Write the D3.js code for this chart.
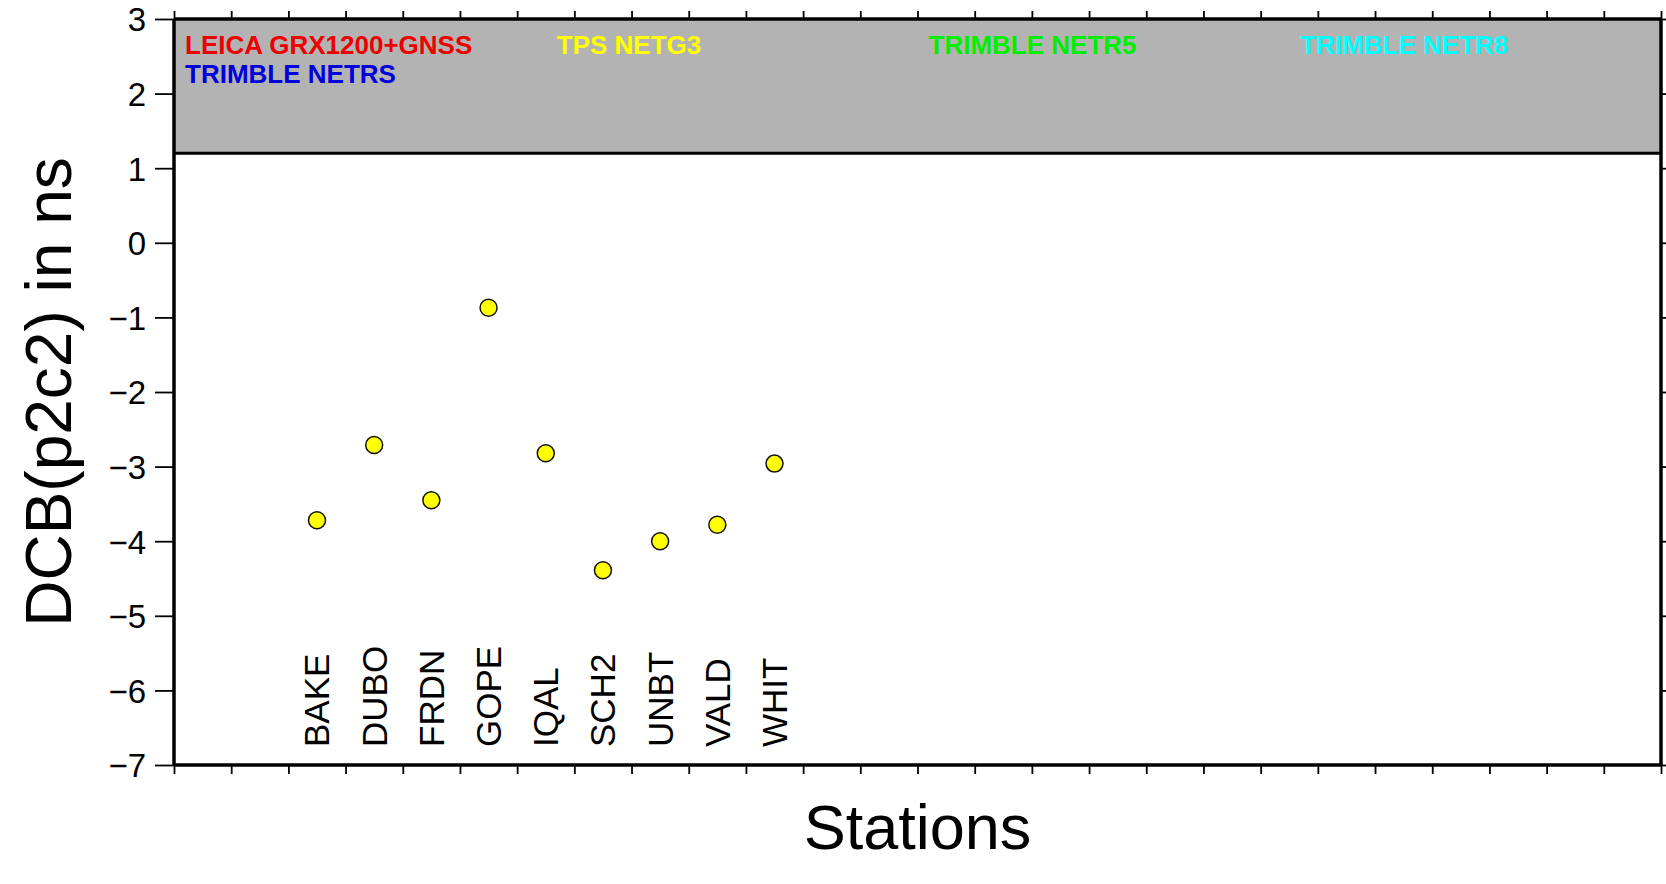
<!DOCTYPE html>
<html>
<head>
<meta charset="utf-8">
<script src="https://cdn.jsdelivr.net/npm/d3@7"></script>
<style>
  html, body { margin: 0; padding: 0; background: #fff; }
  svg { display: block; font-family: "Liberation Sans", Arial, Helvetica, sans-serif; }
</style>
</head>
<body>
<div id="chart"></div>
<script>
// stations and their DCB(p2c2) values in ns
const stations = ['BAKE', 'DUBO', 'FRDN', 'GOPE', 'IQAL', 'SCH2', 'UNBT', 'VALD', 'WHIT'];
const dcbValues = [-3.72, -2.71, -3.45, -0.87, -2.82, -4.39, -4.00, -3.78, -2.96];

// receiver types shown in the grey band
const receivers = ['LEICA GRX1200+GNSS', 'TRIMBLE NETRS', 'TPS NETG3', 'TRIMBLE NETR5', 'TRIMBLE NETR8'];
const receiverColors = ['#ee0000', '#0000dd', '#ffff00', '#00ee00', '#00ffff'];
const receiverColumn = [0, 0, 1, 2, 3];
const receiverRow = [0, 1, 0, 0, 0];

const yTicks = [3, 2, 1, 0, -1, -2, -3, -4, -5, -6, -7];

const width = 1666, height = 884;
const plotLeft = 174, plotRight = 1661, plotTop = 19, plotBottom = 765;
const nSlots = 26;      // x axis runs over 26 slots
const firstSlot = 2;    // first station sits in slot 2
const bandFloor = 1.2;  // grey band goes from here up to the top

const svg = d3.select('#chart').append('svg')
    .attr('width', width)
    .attr('height', height);

const x = d3.scaleLinear().domain([0, nSlots]).range([plotLeft, plotRight]);
const y = d3.scaleLinear().domain([-7, 3]).range([plotBottom, plotTop]);

// --- grey band with the receiver names ---
svg.append('rect')
    .attr('x', x(0))
    .attr('y', y(3))
    .attr('width', x(nSlots) - x(0))
    .attr('height', y(bandFloor) - y(3))
    .attr('fill', '#b3b3b3');

svg.append('line')
    .attr('x1', x(0)).attr('x2', x(nSlots))
    .attr('y1', y(bandFloor)).attr('y2', y(bandFloor))
    .attr('stroke', '#000')
    .attr('stroke-width', 3);

svg.append('g')
    .selectAll('text')
    .data(receivers)
    .enter()
    .append('text')
    .attr('x', (d, i) => x(receiverColumn[i] * nSlots / 4) + 11)
    .attr('y', (d, i) => 54 + receiverRow[i] * 29)
    .attr('fill', (d, i) => receiverColors[i])
    .attr('font-size', 26)
    .attr('font-weight', 'bold')
    .text(d => d);

// --- axes ---
const axisLeft = svg.append('g')
    .attr('transform', `translate(${plotLeft},0)`)
    .call(d3.axisLeft(y).tickValues(yTicks).tickSize(19).tickPadding(9)
        .tickFormat(d => d3.format('d')(d)));
axisLeft.selectAll('text').attr('font-size', 33).attr('fill', '#000').attr('dy', '0.36em');

const axisRight = svg.append('g')
    .attr('transform', `translate(${plotRight},0)`)
    .call(d3.axisRight(y).tickValues(yTicks).tickSize(7).tickFormat(''));

const axisBottom = svg.append('g')
    .attr('transform', `translate(0,${plotBottom})`)
    .call(d3.axisBottom(x).ticks(nSlots).tickSize(9).tickFormat(''));

const axisTop = svg.append('g')
    .attr('transform', `translate(0,${plotTop})`)
    .call(d3.axisTop(x).ticks(nSlots).tickSize(8).tickFormat(''));

[axisLeft, axisRight, axisBottom, axisTop].forEach(g => {
    g.select('.domain').attr('stroke-width', 3.5).attr('stroke', '#000');
    g.selectAll('.tick line').attr('stroke-width', 1.8).attr('stroke', '#000');
});
// drop the d3 end caps of the domain path so the frame is a clean box
[axisLeft, axisRight].forEach(g => g.select('.domain')
    .attr('d', `M0,${plotBottom}V${plotTop}`));
[axisBottom, axisTop].forEach(g => g.select('.domain')
    .attr('d', `M${plotLeft},0H${plotRight}`));

// --- station names ---
svg.append('g')
    .selectAll('text')
    .data(stations)
    .enter()
    .append('text')
    .attr('transform', (d, i) => `translate(${x(firstSlot + i + 0.5) + 12.5},${747}) rotate(-90)`)
    .attr('font-size', 35)
    .attr('fill', '#000')
    .text(d => d);

// --- points ---
svg.append('g')
    .selectAll('circle')
    .data(dcbValues)
    .enter()
    .append('circle')
    .attr('cx', (d, i) => x(firstSlot + i + 0.5))
    .attr('cy', d => y(d))
    .attr('r', 8.5)
    .attr('fill', '#ffff00')
    .attr('stroke', '#111')
    .attr('stroke-width', 1.5);

// --- axis titles ---
svg.append('text')
    .attr('transform', `translate(71,${(plotTop + plotBottom) / 2}) rotate(-90)`)
    .attr('text-anchor', 'middle')
    .attr('font-size', 64)
    .attr('fill', '#000')
    .text('DCB(p2c2) in ns');

svg.append('text')
    .attr('x', (plotLeft + plotRight) / 2)
    .attr('y', 849)
    .attr('text-anchor', 'middle')
    .attr('font-size', 63)
    .attr('fill', '#000')
    .text('Stations');
</script>
</body>
</html>
